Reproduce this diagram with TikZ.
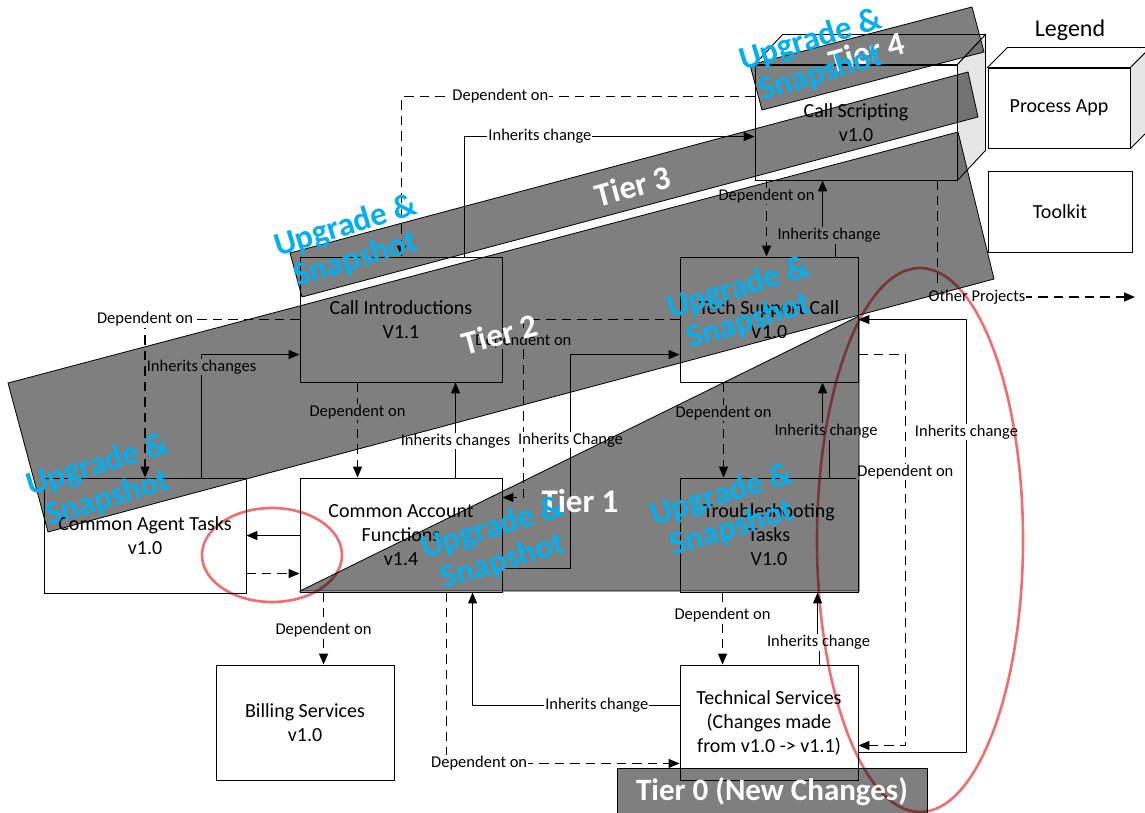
\documentclass[tikz,border=0pt]{standalone}
\usepackage{fontspec}
\setmainfont{Carlito}
\usetikzlibrary{arrows.meta,calc}
\definecolor{bandgray}{RGB}{127,127,127}
\definecolor{facegray}{RGB}{230,230,230}
\definecolor{ringred}{RGB}{242,110,110}
\definecolor{snapblue}{RGB}{0,176,240}
\newcommand\boxfnt{\fontsize{20}{24}\selectfont}
\newcommand\lblfnt{\fontsize{16.5}{18}\selectfont}
\newcommand\snapfnt{\fontsize{33}{35}\selectfont\bfseries}
\newcommand\tierfnt{\fontsize{33}{36}\selectfont\bfseries}
\begin{document}
\begin{tikzpicture}[x=1pt,y=-1pt,
  pbox/.style={draw=black,line width=0.9pt,inner sep=0pt,align=center,font=\boxfnt},
  lbl/.style={fill=white,inner sep=1pt,font=\lblfnt},
  con/.style={line width=1.25pt,-{Triangle[length=11pt,width=9pt]}},
  dep/.style={con,dash pattern=on 9.5pt off 6pt},
  inh/.style={con},
  band/.style={fill=bandgray,draw=black,line width=0.8pt},
  ring/.style={draw=ringred,line width=2.6pt},
  snap/.style={text=snapblue,font=\snapfnt,align=center,rotate=17},
  tier/.style={text=white,font=\tierfnt},
]
\fill[white] (0,0) rectangle (1145,813);
\useasboundingbox (0,0) rectangle (1145,813);

% ---- boxes ----
\node[pbox,minimum width=202pt,minimum height=115pt] (cs) at (856,122.5) {Call Scripting\\v1.0};
\node[pbox,minimum width=202pt,minimum height=125pt] (ci) at (401,319.5) {Call Introductions\\V1.1};
\node[pbox,minimum width=178pt,minimum height=125pt] (ts) at (769,319.5) {Tech Support Call\\V1.0};
\node[pbox,minimum width=202pt,minimum height=115pt] (cat) at (145,535.5) {Common Agent Tasks\\v1.0};
\node[pbox,minimum width=202pt,minimum height=114pt] (caf) at (401,535) {Common Account\\Functions\\v1.4};
\node[pbox,minimum width=178pt,minimum height=114pt] (tt) at (769,535) {Troubleshooting\\Tasks\\V1.0};
\node[pbox,minimum width=178pt,minimum height=115pt] (bs) at (305,722.5) {Billing Services\\v1.0};
\node[pbox,minimum width=178pt,minimum height=115pt] (tsv) at (769,722.5) {Technical Services\\(Changes made\\from v1.0 -> v1.1)};
\node[pbox,minimum width=142pt,minimum height=80pt] (pa) at (1059,108) {Process App};
\node[pbox,minimum width=144pt,minimum height=81pt] (tk) at (1060,211.5) {Toolkit};
\node[font=\fontsize{24}{28}\selectfont] (lg) at (1070,30) {Legend};

% 3D faces
\filldraw[fill=white,line width=0.9pt] (cs.north west) -- ++(28,-30) -- ($(cs.north east)+(28,-30)$) -- (cs.north east) -- cycle;
\filldraw[fill=facegray,line width=0.9pt] (cs.north east) -- ++(28,-30) -- ($(cs.south east)+(28,-30)$) -- (cs.south east) -- cycle;
\filldraw[fill=white,line width=0.9pt] (pa.north west) -- ++(20,-20) -- ($(pa.north east)+(20,-20)$) -- (pa.north east) -- cycle;
\filldraw[fill=facegray,line width=0.9pt] (pa.north east) -- ++(20,-20) -- ($(pa.south east)+(20,-20)$) -- (pa.south east) -- cycle;

% ---- connectors ----
\draw[dep] ($(cs.north west)+(0,32)$) -| node[lbl,pos=0.36](l1){Dependent on} ($(ci.north west)+(102,0)$);
\draw[inh] ($(ci.north west)+(165,0)$) |- node[lbl,pos=0.63](l2){Inherits change} ($(cs.north west)+(0,72)$);
\draw[dep] ($(cs.south west)+(12,0)$) -- node[lbl,pos=0.2](l3){Dependent on} ($(ts.north west)+(87,0)$);
\draw[inh] ($(ts.north west)+(156,0)$) -- ++(0,-21) -- node[lbl](l4){Inherits change} ++(-13,0) -- ($(cs.south west)+(68,0)$);
\coordinate (op) at (1135,297);
\draw[dep] ($(cs.south west)+(183,0)$) |- node[lbl,pos=0.6](l5){Other Projects} (op);
\draw[dep] ($(ts.south west)+(44,0)$) -- node[lbl,pos=0.32](l6){Dependent on} ($(tt.north west)+(44,0)$);
\draw[dep] ($(tt.south west)+(43,0)$) -- node[lbl,pos=0.32](l7){Dependent on} ($(tsv.north west)+(43,0)$);
\draw[inh] ($(tt.north west)+(150,0)$) -- ++(0,-46) -- node[lbl](l8){Inherits change} ++(-7,0) -- ($(ts.south west)+(143,0)$);
\draw[inh] ($(tsv.north west)+(140,0)$) -- ++(0,-22) -- node[lbl](l9){Inherits change} ++(-2,0) -- ($(tt.south west)+(138,0)$);
\draw[inh] ($(tsv.south east)+(0,-28)$) -| node[lbl,pos=0.87](l10){Inherits change} ($(ts.north east)+(108,63)$) -- ($(ts.north east)+(0,63)$);
\draw[dep] ($(ts.north east)+(0,98)$) -| node[lbl,pos=0.65](l11){Dependent on} ($(tsv.south east)+(47,-35)$) -- ($(tsv.south east)+(0,-35)$);
\draw[dep] (ts.west) -| node[lbl,pos=0.56](l12){Dependent on} ($(caf.north east)+(21,20)$) -- ($(caf.north east)+(0,20)$);
\draw[inh] ($(caf.south east)+(0,-24)$) -| node[lbl,pos=0.8](l13){Inherits Change} ($(ts.north west)+(-109,98)$) -- ($(ts.north west)+(0,98)$);
\draw[inh] ($(caf.north west)+(156,0)$) -- node[lbl,pos=0.385](l14){Inherits changes} ($(ci.south west)+(156,0)$);
\draw[dep] ($(ci.south west)+(58,0)$) -- node[lbl,pos=0.31](l15){Dependent on} ($(caf.north west)+(58,0)$);
\draw[dep] (ci.west) -| node[lbl,pos=0.5](l16){Dependent on} (cat.north);
\draw[inh] ($(cat.north west)+(158,0)$) |- node[lbl,pos=0.45](l17){Inherits changes} ($(ci.north west)+(0,98)$);
\draw[inh] ($(caf.north west)+(0,58)$) -- ($(cat.north east)+(0,58)$);
\draw[dep] ($(cat.north east)+(0,96)$) -- ($(caf.north west)+(0,96)$);
\draw[dep] ($(caf.south west)+(24,0)$) -- node[lbl,pos=0.52](l20){Dependent on} ($(bs.north west)+(108,0)$);
\draw[inh] ($(tsv.north west)+(0,41)$) -| node[lbl,pos=0.2](l21){Inherits change} ($(caf.south west)+(173,0)$);
\draw[dep] ($(caf.south west)+(147,0)$) |- node[lbl,pos=0.57](l22){Dependent on} ($(tsv.south west)+(0,-17)$);

% ---- tier bands and rings (multiplied over the drawing) ----
\begin{scope}[blend mode=multiply]
\draw[band] (8,383) -- (958,132) -- (994,279) -- (48,532) -- cycle;
\draw[band] (290,253) -- (968,72) -- (978,117) -- (302,297) -- cycle;
\draw[band] (750,65) -- (972,7) -- (984,52) -- (762,110) -- cycle;
\draw[band] (300,591) -- (859,316) -- (859,591) -- cycle;
\draw[band] (617,768) rectangle (927,816);
\draw[ring] (272,555) ellipse [x radius=70, y radius=47];
\draw[ring] (920,540) ellipse [x radius=103, y radius=272];
\end{scope}

% ---- tier labels ----
\node[tier,rotate=15] (t4) at (867,52) {Tier 4};
\node[tier,rotate=15] (t3) at (633,186) {Tier 3};
\node[tier,rotate=15] (t2) at (500,334) {Tier 2};
\node[tier] (t1) at (580,501) {Tier 1};
\node[tier,font=\fontsize{31}{36}\selectfont\bfseries] (t0) at (772,792) {Tier 0 (New Changes)};

% ---- upgrade labels ----
\node[snap] (s1) at (816,57) {Upgrade \&\\Snapshot};
\node[snap] (s2) at (351,243) {Upgrade \&\\Snapshot};
\node[snap] (s3) at (103,482) {Upgrade \&\\Snapshot};
\node[snap] (s4) at (744,305) {Upgrade \&\\Snapshot};
\node[snap] (s5) at (498,545) {Upgrade \&\\Snapshot};
\node[snap] (s6) at (727,512) {Upgrade \&\\Snapshot};
\end{tikzpicture}
\end{document}
